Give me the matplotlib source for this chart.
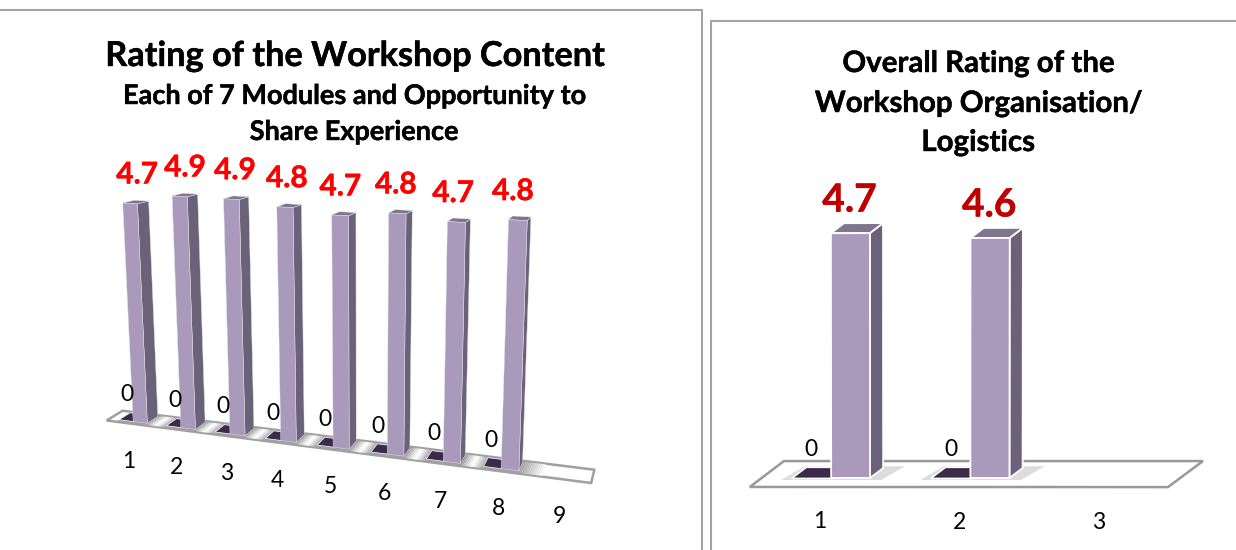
import numpy as np
import matplotlib
matplotlib.use("Agg")
import matplotlib.pyplot as plt
import matplotlib.patheffects as pe
from matplotlib.transforms import Transform
from matplotlib.patches import Polygon

# ---- data ----
left_categories = [1, 2, 3, 4, 5, 6, 7, 8, 9]
left_ratings = [4.7, 4.9, 4.9, 4.8, 4.7, 4.8, 4.7, 4.8]
left_zero_series = [0, 0, 0, 0, 0, 0, 0, 0]
right_categories = [1, 2, 3]
right_ratings = [4.7, 4.6]
right_zero_series = [0, 0]

FRONT = "#a99abc"; SIDE = "#6b627a"; TOP = "#80758f"; STUB = "#3b2a4a"
FONT = "Lato"
plt.rcParams["font.family"] = FONT


def fit_camera(pairs):
    """Solve a projective camera (category, value, depth) -> pixel from anchor pairs."""
    A, b = [], []
    for (x, y, z), (u, v) in pairs:
        A.append([x, y, z, 1, 0, 0, 0, 0, -u*x, -u*y, -u*z]); b.append(u)
        A.append([0, 0, 0, 0, x, y, z, 1, -v*x, -v*y, -v*z]); b.append(v)
    p = np.linalg.lstsq(np.array(A, float), np.array(b, float), rcond=None)[0]
    return np.append(p, 1.0).reshape(3, 4)


class Camera(Transform):
    input_dims = 2
    output_dims = 2
    has_inverse = False
    is_separable = False

    def __init__(self, P, plane=0.0):
        super().__init__()
        self.P = P
        self.plane = plane

    def transform_non_affine(self, values):
        v = np.asarray(values, float)
        h = np.column_stack([v[:, 0], v[:, 1], np.full(len(v), self.plane), np.ones(len(v))])
        q = h @ self.P.T
        return q[:, :2] / q[:, 2:3]


def pt(P, c, v, d):
    return Camera(P, d).transform_non_affine(np.array([[c, v]]))[0]


def quad(ax, P, corners, **kw):
    ax.add_patch(Polygon([pt(P, *k) for k in corners], closed=True, **kw))


def box(ax, P, cats, vals, d0, d1, w, ec, lw, z):
    base = Camera(P, d0) + ax.transData
    ax.bar(cats, vals, width=w, align="edge", color=FRONT, edgecolor=ec, linewidth=lw,
           transform=base, zorder=z + 0.2)
    for c, v in zip(cats, vals):
        quad(ax, P, [(c+w, 0, d0), (c+w, v, d0), (c+w, v, d1), (c+w, 0, d1)],
             fc=SIDE, ec=ec, lw=lw, zorder=z)
        quad(ax, P, [(c, v, d0), (c+w, v, d0), (c+w, v, d1), (c, v, d1)],
             fc=TOP, ec=ec, lw=lw, zorder=z + 0.1)


def bold(x, y, s, size, color="black", sw=0.3, z=10):
    ax.text(x, y, s, color=color, fontsize=size, fontweight="bold", ha="center", va="center", zorder=z,
            path_effects=[pe.withStroke(linewidth=sw, foreground=color)])


fig = plt.figure(figsize=(12.36, 5.5), dpi=100)
ax = fig.add_axes([0, 0, 1, 1])
ax.set_xlim(0, 1236); ax.set_ylim(550, 0); ax.axis("off"); ax.set_autoscale_on(False)

# panel frames
ax.plot([0, 702, 702], [9.5, 9.5, 550], color="#a3a3a3", lw=1.5, zorder=1)
ax.plot([710.5, 710.5, 1236], [550, 21, 21], color="#a3a3a3", lw=1.5, zorder=1)

# ---- left chart ----
PL = fit_camera([
    ((0.5, 0, 0), (105, 422)), ((9.5, 0, 0), (589, 485)),
    ((0.5, 0, 1), (126, 411)), ((9.5, 0, 1), (596, 469)),
    ((1.0, 0, .2), (134, 421)), ((1.3, 0, .2), (147, 423)),
    ((1.0, 4.7, .2), (124, 203)), ((1.3, 4.7, .2), (138, 203)),
    ((5.0, 0, .2), (334, 447)), ((5.3, 0, .2), (349, 449)),
    ((5.0, 4.7, .2), (333, 216)), ((5.3, 4.7, .2), (349, 216)),
    ((8.0, 0, .2), (502, 468)), ((8.3, 0, .2), (519, 470)),
    ((8.0, 4.8, .2), (510, 219)), ((8.3, 4.8, .2), (526, 219)),
    ((8.3, 4.8, .9), (530, 218)), ((1.3, 4.7, .9), (146, 202)),
    ((1.3, 0, .9), (155, 415)), ((8.3, 0, .9), (522, 463)),
])
WL = 0.3
quad(ax, PL, [(0.5, 0, 0), (9.5, 0, 0), (9.5, 0, 1), (0.5, 0, 1)],
     fc="white", ec="#a0a0a0", lw=1.8, zorder=2)
for c in left_categories[:-1]:
    n = 14
    for k in range(n):
        t0, t1 = k/n, (k+1)/n
        if c == left_categories[-2]:
            gray = 0.62 + 0.38*t0
            a, b = c+WL, c+WL+0.4
        else:
            gray = 1 - 0.42*abs(2*t0-1)**1.2
            a, b = c+WL, c+1-WL
        quad(ax, PL, [(a+(b-a)*t0, 0, .05), (a+(b-a)*t1, 0, .05), (a+(b-a)*t1, 0, .95), (a+(b-a)*t0, 0, .95)],
             fc=str(gray), ec="none", zorder=2.1)
    quad(ax, PL, [(c-WL, 0, .05), (c+WL, 0, .05), (c+WL, 0, .95), (c-WL, 0, .95)],
         fc="#a0a0a0", ec="none", zorder=2.1)
left_z = 3
for i, (c, zv, r) in enumerate(zip(left_categories, left_zero_series, left_ratings)):
    quad(ax, PL, [(c-WL, zv, .2), (c, zv, .2), (c, zv, .9), (c-WL, zv, .9)], fc=STUB, ec="white", lw=0.5, zorder=left_z)
    box(ax, PL, [c], [r], .2, .9, WL, "#e8e4ee", 0.3, left_z + 1)
    tx, ty = pt(PL, c + WL/2, r, .2)
    bold(tx + 7 - 12*i/7, ty - 29, f"{r:.1f}", 21.5, "#ff0000")
    zx, zy = pt(PL, c - WL/2, zv, .5)
    ax.text(zx - 3.5, zy - 23, str(zv), color="black", fontsize=16.5, ha="center", va="center", zorder=10)
for c in left_categories:
    bx, by = pt(PL, c, 0, 0)
    ax.text(bx - 1, by + 37.5, str(c), color="black", fontsize=16.5, ha="center", va="center", zorder=10)

bold(355, 56, "Rating of the Workshop Content", 24.7)
bold(354.5, 96, "Each of 7 Modules and Opportunity to", 19.5)
bold(354, 132, "Share Experience", 19.5)

# ---- right chart ----
PR = fit_camera([
    ((0.5, 0, 0), (750, 487)), ((3.5, 0, 0), (1168, 487)),
    ((0.5, 0, 1), (784, 461)), ((3.5, 0, 1), (1203, 461)),
    ((1.0, 0, .35), (831, 478)), ((1.28, 0, .35), (870, 478)),
    ((1.0, 4.7, .35), (831, 233)), ((2.0, 4.6, .35), (970, 238)),
    ((2.28, 4.6, .35), (1010, 238)), ((2.28, 4.6, .73), (1023, 228)),
])
WR = 0.28
quad(ax, PR, [(0.5, 0, 0), (3.5, 0, 0), (3.5, 0, 1), (0.5, 0, 1)],
     fc="white", ec="#999999", lw=1.8, zorder=2)
for c, zv, r in zip(right_categories, right_zero_series, right_ratings):
    quad(ax, PR, [(c-WR-.06, 0, .27), (c+WR+.10, 0, .27), (c+WR+.14, 0, .8), (c-WR-.02, 0, .8)],
         fc="#dcdcdc", ec="none", zorder=2.5)
    quad(ax, PR, [(c-WR, zv, .33), (c+.02, zv, .33), (c+.02, zv, .76), (c-WR, zv, .76)],
         fc=STUB, ec="white", lw=1.2, zorder=3)
    box(ax, PR, [c], [r], .35, .73, WR, "white", 1.3, 4)
    tx, ty = pt(PR, c + WR/2, r, .35)
    bold(tx - 1, ty - 33, f"{r:.1f}", 28, "#c00000")
    zx, zy = pt(PR, c - WR/2, zv, .5)
    ax.text(zx - 5.5, zy - 25, str(zv), color="black", fontsize=16.5, ha="center", va="center", zorder=10)
for c in right_categories:
    bx, by = pt(PR, c, 0, 0)
    ax.text(bx + 1, by + 35, str(c), color="black", fontsize=16.5, ha="center", va="center", zorder=10)

bold(978, 64, "Overall Rating of the", 21.2)
bold(978, 104, "Workshop Organisation/", 21.2)
bold(978, 143, "Logistics", 21.2)

fig.savefig("out.png", dpi=100, facecolor="white")
